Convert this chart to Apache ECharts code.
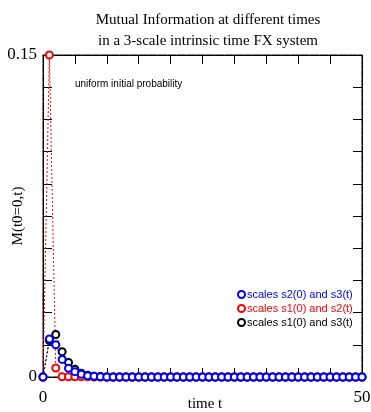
<!DOCTYPE html>
<html>
<head>
<meta charset="utf-8">
<script src="https://cdn.jsdelivr.net/npm/echarts@6/dist/echarts.min.js"></script>
<style>html,body{margin:0;padding:0;background:#fff}#c{width:371px;height:412px}</style>
</head>
<body>
<div id="c"></div>
<script>
var times = [];
for (var i = 0; i <= 50; i++) times.push(i);
var seriesNames = ['scales s2(0) and s3(t)', 'scales s1(0) and s2(t)', 'scales s1(0) and s3(t)'];
var seriesColors = ['#0000ff', '#ff0000', '#000000'];
var blueVals = [0, 0.0177, 0.0150, 0.0082, 0.0041, 0.0025, 0.0013, 0.0006, 0.0003, 0.0001,
  0,0,0,0,0,0,0,0,0,0, 0,0,0,0,0,0,0,0,0,0, 0,0,0,0,0,0,0,0,0,0, 0,0,0,0,0,0,0,0,0,0, 0];
var redVals = [0, 0.15, 0.0042, 0.0001, 0.0001, 0.0001, 0.0001, 0.0001, 0, 0,
  0,0,0,0,0,0,0,0,0,0, 0,0,0,0,0,0,0,0,0,0, 0,0,0,0,0,0,0,0,0,0, 0,0,0,0,0,0,0,0,0,0, 0];
var blackVals = [0, 0.0170, 0.0198, 0.0118, 0.0068, 0.0036, 0.0017, 0.0008, 0.0004, 0.0002,
  0,0,0,0,0,0,0,0,0,0, 0,0,0,0,0,0,0,0,0,0, 0,0,0,0,0,0,0,0,0,0, 0,0,0,0,0,0,0,0,0,0, 0];
var titleLines = ['Mutual Information at different times', 'in a 3-scale intrinsic time FX system'];
var annotation = 'uniform initial probability';
var xName = 'time t', yName = 'M(t0=0,t)';
var xRange = [0, 50], yRange = [0, 0.15];

function pairs(vals){ return vals.map(function(v,i){ return [times[i], v]; }); }

var serif = 'Liberation Serif';
var sans = 'Liberation Sans';
var chart = echarts.init(document.getElementById('c'), null, {renderer:'canvas'});

function mkSeries(idx, z){
  return {
    name: seriesNames[idx], type:'line', data: pairs([blueVals, redVals, blackVals][idx]),
    symbol:'emptyCircle', symbolSize:7, clip:false, z:z,
    itemStyle:{color:seriesColors[idx], borderWidth:0.9},
    lineStyle:{color:seriesColors[idx], width:1, type:[2,2]},
    animation:false
  };
}
var frameSeries = {
  name:'frame', type:'line', silent:true, symbol:'none', clip:false, z:1,
  data:[[xRange[0],yRange[0]],[xRange[1],yRange[0]],[xRange[1],yRange[1]],[xRange[0],yRange[1]],[xRange[0],yRange[0]]],
  lineStyle:{color:'#000', width:1, type:[9,0.5]}, animation:false, tooltip:{show:false}
};
function tk(){ return {show:true, inside:true, length:9, lineStyle:{color:'#000', width:1}}; }
function al(){ return {show:true, onZero:false, lineStyle:{color:'#000', width:1, type:[9,0.5]}}; }
chart.setOption({
  animation:false,
  title:{text: titleLines.join('\n'), left:203, textAlign:'center', top:5,
    textStyle:{fontFamily:serif, fontWeight:'normal', fontSize:15, color:'#000', lineHeight:21}},
  legend:{orient:'vertical', left:232, top:284, itemGap:3, itemWidth:7, itemHeight:7,
    icon:'emptyCircle', selectedMode:false, itemStyle:{borderWidth:0.9},
    textStyle:{fontFamily:sans, fontSize:11, padding:[0,0,0,-3]},
    data:[
      {name:seriesNames[0], textStyle:{color:seriesColors[0]}},
      {name:seriesNames[1], textStyle:{color:seriesColors[1]}},
      {name:seriesNames[2], textStyle:{color:seriesColors[2]}}
    ]},
  grid:{left:43, right:9, top:55, bottom:35, containLabel:false, outerBoundsMode:'none'},
  xAxis:[{type:'value', min:xRange[0], max:xRange[1], interval:5, position:'bottom',
      axisLine:al(), axisTick:tk(), splitLine:{show:false},
      axisLabel:{fontFamily:serif, fontSize:17, color:'#000', margin:12,
        formatter:function(v){ return (v===0||v===50)? String(v) : ''; }}},
    {type:'value', min:xRange[0], max:xRange[1], interval:5, position:'top',
      axisLine:al(), axisTick:tk(), splitLine:{show:false}, axisLabel:{show:false}}],
  yAxis:[{type:'value', min:yRange[0], max:yRange[1], interval:0.015, position:'left',
      axisLine:al(), axisTick:tk(), splitLine:{show:false},
      axisLabel:{fontFamily:serif, fontSize:17, color:'#000', margin:6,
        formatter:function(v){ if (Math.abs(v)<1e-9) return '0'; if (Math.abs(v-0.15)<1e-9) return '0.15'; return ''; }}},
    {type:'value', min:yRange[0], max:yRange[1], interval:0.015, position:'right',
      axisLine:al(), axisTick:tk(), splitLine:{show:false}, axisLabel:{show:false}}],
  graphic:[
    {type:'text', left:75, top:79, style:{text:annotation, font:'10px "Liberation Sans"', fill:'#000'}},
    {type:'text', x:205, y:404, style:{text:xName, font:'15px "Liberation Serif"', fill:'#000', align:'center', verticalAlign:'middle'}},
    {type:'text', x:18, y:216, rotation:Math.PI/2, style:{text:yName, font:'15px "Liberation Serif"', fill:'#000', align:'center', verticalAlign:'middle'}}
  ],
  series:[frameSeries, mkSeries(1, 2), mkSeries(2, 3), mkSeries(0, 4)]
});
</script>
</body>
</html>
